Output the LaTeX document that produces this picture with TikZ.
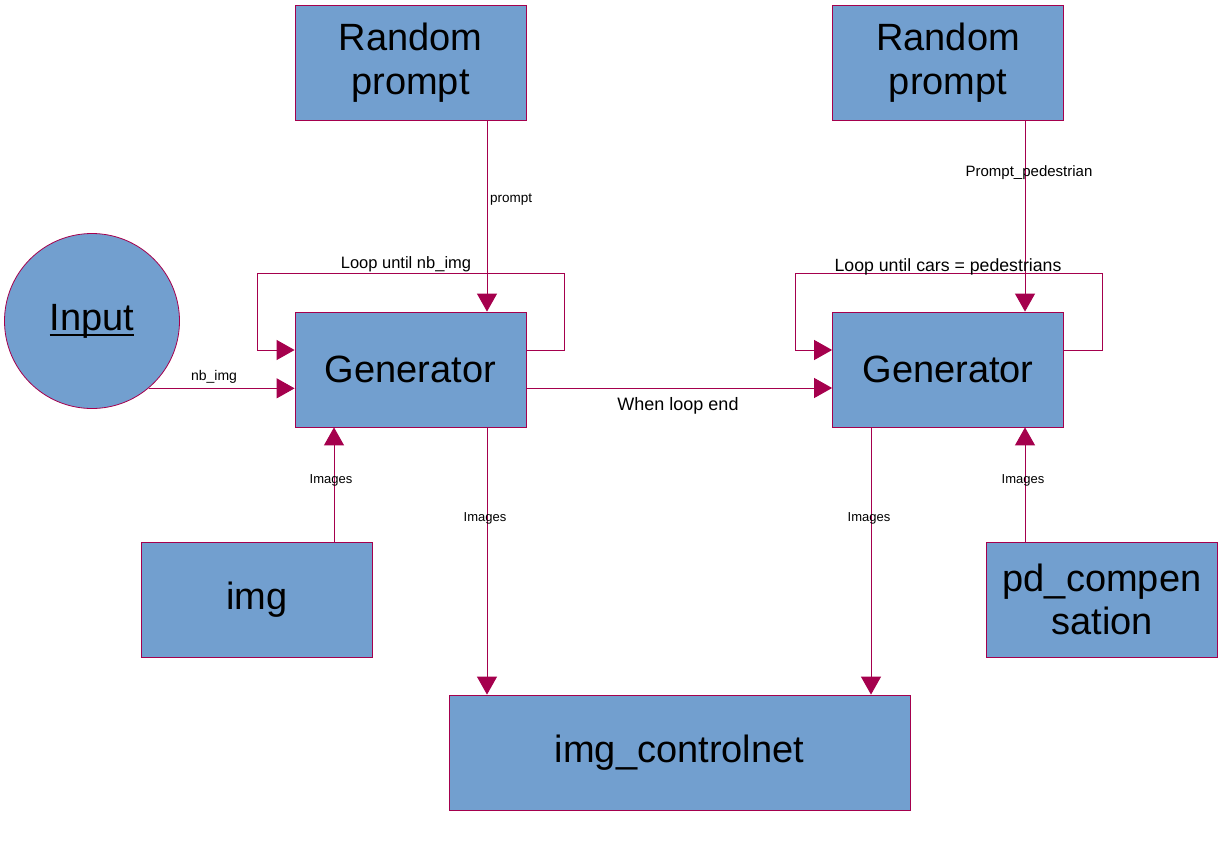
\documentclass[tikz,border=0pt]{standalone}
\usepackage{fontspec}
\setmainfont{Liberation Sans}
\usetikzlibrary{arrows.meta,calc}
\definecolor{boxfill}{HTML}{729FCF}
\definecolor{linec}{HTML}{A5004D}
\newcommand{\thickul}[1]{\setbox0\hbox{#1}\leavevmode\rlap{\raisebox{-6pt}{\rule{\wd0}{2pt}}}\box0}
\begin{document}
\begin{tikzpicture}[x=1pt,y=-1pt,
 box/.style={draw=linec,line width=0.8pt,fill=boxfill,minimum width=231pt,minimum height=115pt,inner sep=0pt,align=center,font=\fontsize{38}{43.5}\selectfont},
 arr/.style={draw=linec,line width=1pt,-{Triangle[length=18pt,width=20pt]}},
 lbl/.style={font=\fontsize{13.5}{15}\selectfont,inner sep=1pt},
 slbl/.style={font=\fontsize{15}{17}\selectfont,inner sep=1pt},
 mlbl/.style={font=\fontsize{16.5}{19}\selectfont,inner sep=1pt}]
\useasboundingbox (0,0) rectangle (1231,841);
\node[box] (rp1) at (410.5,62.5) {Random\\prompt};
\node[box] (rp2) at (948,62.5) {Random\\prompt};
\node[box,circle,minimum size=175pt] (inp) at (92,321) {\thickul{Input}};
\node[box] (g1) at (410.5,369.5) {Generator};
\node[box] (g2) at (948,369.5) {Generator};
\node[box] (img) at (257,599.5) {img};
\node[box] (pd) at (1102,599.5) {pd\_compen\\sation};
\node[box,minimum width=461pt] (cn) at (679.5,752.5) {img\_controlnet};

% prompts
\draw[arr] (rp1.south -| 487,0) -- (g1.north -| 487,0);
\node[lbl,anchor=west] (lprompt) at (489,200) {prompt};
\draw[arr] (rp2.south -| 1025,0) -- (g2.north -| 1025,0);
\node[slbl] (lpp) at (1029,173) {Prompt\_pedestrian};

% loops
\draw[arr] (g1.east |- 0,350) -- (564,350) -- (564,273) -- (257,273) -- (257,350) -- (g1.west |- 0,350);
\node[mlbl] (lloop1) at (406,264) {Loop until nb\_img};
\draw[arr] (g2.east |- 0,350) -- (1102,350) -- (1102,273) -- (795,273) -- (795,350) -- (g2.west |- 0,350);
\node[mlbl,font=\fontsize{17.7}{20}\selectfont] (lloop2) at (948,267) {Loop until cars = pedestrians};

% input
\draw[arr] (inp.-50.4) -- (g1.west |- inp.-50.4);
\node[slbl,font=\fontsize{14}{16}\selectfont] (lnb) at (214,377) {nb\_img};

% when loop end
\draw[arr] (g1.east |- 0,388) -- (g2.west |- 0,388);
\node[mlbl,font=\fontsize{18}{20}\selectfont] (lend) at (678,406) {When loop end};

% images
\draw[arr] (img.north -| 334,0) -- (g1.south -| 334,0);
\node[lbl,font=\fontsize{13}{15}\selectfont] (li1) at (331,480) {Images};
\draw[arr] (g1.south -| 487,0) -- (cn.north -| 487,0);
\node[lbl,font=\fontsize{13}{15}\selectfont] (li2) at (485,518) {Images};
\draw[arr] (g2.south -| 871,0) -- (cn.north -| 871,0);
\node[lbl,font=\fontsize{13}{15}\selectfont] (li3) at (869,518) {Images};
\draw[arr] (pd.north -| 1025,0) -- (g2.south -| 1025,0);
\node[lbl,font=\fontsize{13}{15}\selectfont] (li4) at (1023,480) {Images};
\end{tikzpicture}
\end{document}
